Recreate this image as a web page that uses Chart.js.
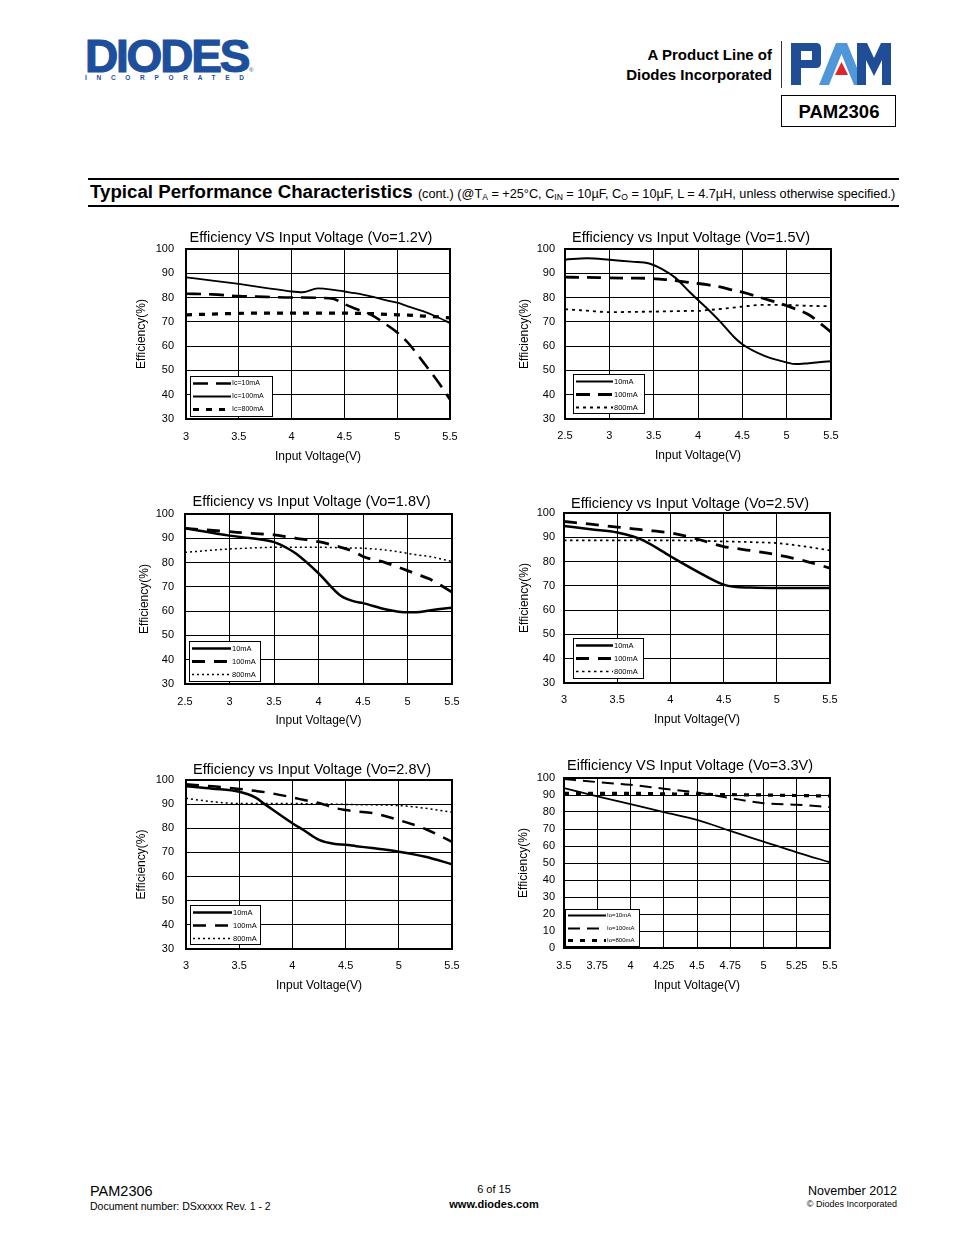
<!DOCTYPE html>
<html>
<head>
<meta charset="utf-8">
<script src="https://cdn.jsdelivr.net/npm/chart.js@4.4.1/dist/chart.umd.min.js"></script>
<style>
body { margin: 0; background: #fff; font-family: "Liberation Sans", Arial, sans-serif; }
#page { position: relative; width: 954px; height: 1235px; overflow: hidden; background: #fff; }
.t { position: absolute; white-space: nowrap; line-height: 1; color: #000; }
canvas { position: absolute; }
.sub { font-size: 8.5px; position: relative; top: 2px; }
</style>
</head>
<body>
<div id="page">
  <!-- header -->
  <div class="t" style="left:85px;top:33px;font-size:46px;font-weight:bold;color:#1d4f9c;letter-spacing:-2.2px;-webkit-text-stroke:1.2px #1d4f9c">DIODES</div>
  <div class="t" style="left:249px;top:67px;font-size:6px;color:#1d4f9c">®</div>
  <div class="t" style="left:85px;top:75px;font-size:6.5px;font-weight:bold;color:#1d4f9c;letter-spacing:9.7px">INCORPORATED</div>

  <div class="t" style="right:182px;top:47px;font-size:15px;font-weight:bold">A Product Line of</div>
  <div class="t" style="right:182px;top:67px;font-size:15px;font-weight:bold">Diodes Incorporated</div>
  <div style="position:absolute;left:781px;top:41px;width:1px;height:47px;background:#333"></div>
  <svg style="position:absolute;left:789px;top:41px" width="104" height="46" viewBox="789 41 104 46">
    <path fill="#1f4e96" fill-rule="evenodd" d="M791,43 H816 Q821,43 821,48 V63 Q821,68 816,68 H801 V85 H791 Z M801,51 H812 V60 H801 Z"/>
    <path fill="#4f97d8" d="M819,85 L836,43 H847 L864,85 H854 L841.5,54 L829,85 Z"/>
    <path fill="#e0262b" d="M841.5,62 L848,75 H835 Z"/>
    <path fill="#1f4e96" d="M857,85 V43 H867 L874,58 L881,43 H891 V85 H882 V60 L874,76 L866,60 V85 Z"/>
  </svg>
  <div style="position:absolute;left:781px;top:95px;width:113px;height:30px;border:1.5px solid #000"></div>
  <div class="t" style="left:781px;top:103px;width:116px;text-align:center;font-size:18.5px;font-weight:bold">PAM2306</div>

  <div style="position:absolute;left:88px;top:178px;width:811px;height:2px;background:#000"></div>
  <div class="t" style="left:90px;top:183px;font-size:18.7px;font-weight:bold">Typical Performance Characteristics <span style="font-size:12.7px;font-weight:normal">(cont.) (@T<span class="sub">A</span> = +25°C, C<span class="sub">IN</span> = 10µF, C<span class="sub">O</span> = 10µF, L = 4.7µH, unless otherwise specified.)</span></div>
  <div style="position:absolute;left:88px;top:205px;width:811px;height:2px;background:#000"></div>

  <canvas id="c1"></canvas>
  <canvas id="c2"></canvas>
  <canvas id="c3"></canvas>
  <canvas id="c4"></canvas>
  <canvas id="c5"></canvas>
  <canvas id="c6"></canvas>

  <!-- footer -->
  <div class="t" style="left:90px;top:1184px;font-size:14.5px">PAM2306</div>
  <div class="t" style="left:90px;top:1201px;font-size:10.5px">Document number: DSxxxxx Rev. 1 - 2</div>
  <div class="t" style="left:394px;top:1184px;width:200px;text-align:center;font-size:11px">6 of 15</div>
  <div class="t" style="left:394px;top:1199px;width:200px;text-align:center;font-size:11px;font-weight:bold">www.diodes.com</div>
  <div class="t" style="right:57px;top:1185px;font-size:12.5px">November 2012</div>
  <div class="t" style="right:57px;top:1200px;font-size:9px">© Diodes Incorporated</div>
</div>

<script>
// Vo = 1.2V
const vin12 = [3.0, 3.25, 3.5, 3.75, 4.0, 4.1, 4.25, 4.4, 4.5, 4.6, 4.75, 4.9, 5.0, 5.1, 5.25, 5.4, 5.5]
const eff12_10mA = [81.6, 81.3, 80.6, 80.3, 80.0, 80.0, 79.9, 79.4, 77.3, 75.5, 73.0, 68.8, 65.6, 61.5, 53.2, 44.5, 38.0]
const eff12_100mA = [88.3, 87.0, 85.6, 84.0, 82.5, 82.2, 83.8, 83.2, 82.5, 81.8, 80.5, 78.8, 77.9, 76.4, 74.3, 71.6, 69.5]
const eff12_800mA = [72.9, 73.2, 73.5, 73.6, 73.6, 73.6, 73.6, 73.6, 73.6, 73.5, 73.4, 73.1, 72.9, 72.8, 72.4, 72.0, 71.6]

// Vo = 1.5V
const vin15 = [2.5, 2.75, 3.0, 3.25, 3.45, 3.6, 3.75, 3.9, 4.0, 4.1, 4.25, 4.4, 4.5, 4.75, 5.0, 5.1, 5.25, 5.5]
const eff15_10mA = [95.6, 96.2, 95.6, 94.8, 94.0, 91.6, 88.0, 82.5, 79.0, 75.6, 70.1, 64.0, 60.8, 56.0, 53.3, 52.6, 53.0, 53.8]
const eff15_100mA = [88.4, 88.3, 88.1, 88.0, 87.9, 87.5, 87.0, 86.2, 85.8, 85.3, 84.4, 83.0, 82.2, 79.5, 76.7, 75.3, 72.9, 65.8]
const eff15_800mA = [75.2, 74.6, 74.0, 74.1, 74.2, 74.3, 74.4, 74.5, 74.5, 74.8, 75.3, 75.9, 76.3, 77.0, 77.0, 76.8, 76.6, 76.4]

// Vo = 1.8V
const vin18 = [2.5, 3.0, 3.25, 3.5, 3.65, 3.75, 4.0, 4.25, 4.4, 4.5, 4.75, 5.0, 5.1, 5.25, 5.5]
const eff18_10mA = [94.1, 91.1, 90.0, 88.4, 85.9, 83.6, 75.6, 66.3, 64.0, 63.3, 60.8, 59.5, 59.5, 60.3, 61.4]
const eff18_100mA = [94.1, 92.7, 92.0, 91.4, 90.6, 90.0, 88.6, 86.3, 84.5, 82.5, 80.0, 76.7, 75.3, 73.2, 67.8]
const eff18_800mA = [84.2, 85.6, 86.0, 86.3, 86.3, 86.3, 86.3, 86.1, 86.0, 85.9, 85.2, 83.8, 83.2, 82.5, 80.4]

// Vo = 2.5V
const vin25 = [3.0, 3.25, 3.5, 3.65, 3.75, 4.0, 4.25, 4.5, 4.6, 4.75, 5.0, 5.25, 5.5]
const eff25_10mA = [94.7, 93.3, 92.0, 90.3, 88.6, 82.2, 76.0, 70.5, 69.6, 69.3, 69.1, 69.1, 69.1]
const eff25_100mA = [96.5, 95.4, 94.2, 93.5, 93.0, 91.8, 89.3, 86.2, 85.5, 84.6, 82.8, 80.4, 77.3]
const eff25_800mA = [88.7, 88.7, 88.7, 88.7, 88.7, 88.7, 88.6, 88.3, 88.2, 88.0, 87.6, 86.3, 84.6]

// Vo = 2.8V
const vin28 = [3.0, 3.25, 3.5, 3.65, 3.75, 4.0, 4.1, 4.25, 4.4, 4.5, 4.6, 4.75, 5.0, 5.25, 5.5]
const eff28_10mA = [97.4, 96.4, 95.1, 92.8, 89.7, 82.1, 79.4, 75.2, 73.5, 73.2, 72.6, 71.8, 70.3, 68.2, 65.1]
const eff28_100mA = [98.2, 97.4, 96.3, 95.5, 94.9, 92.8, 91.8, 90.5, 88.4, 87.6, 87.0, 86.3, 83.4, 79.7, 74.4]
const eff28_800mA = [92.4, 91.0, 90.3, 90.3, 90.3, 90.3, 90.2, 90.1, 90.0, 89.9, 89.8, 89.7, 89.4, 88.3, 86.6]

// Vo = 3.3V
const vin33 = [3.5, 3.75, 4.0, 4.25, 4.5, 4.75, 5.0, 5.25, 5.5]
const eff33_10mA = [94.1, 89.2, 84.6, 79.9, 75.4, 68.9, 62.6, 56.3, 50.4]
const eff33_100mA = [99.4, 97.6, 96.0, 93.7, 91.5, 88.2, 85.2, 84.3, 82.9]
const eff33_800mA = [91.0, 91.0, 91.0, 90.7, 90.4, 90.2, 90.0, 89.7, 89.4]

// axis ranges: [min, max, step]
const xRange25 = [2.5, 5.5, 0.5]
const xRange30 = [3, 5.5, 0.5]
const xRange35 = [3.5, 5.5, 0.25]
const yRange30 = [30, 100, 10]
const yRange0 = [0, 100, 10]

Chart.defaults.font.family = '"Liberation Sans", Arial, sans-serif'
Chart.defaults.color = '#000'

// thick frame round the plot area
const frame = {
    id: 'frame',
    afterDatasetsDraw(chart) {
        const { ctx, chartArea: a } = chart
        ctx.save()
        ctx.lineWidth = 2
        ctx.strokeStyle = '#000'
        ctx.strokeRect(a.left, a.top, a.right - a.left, a.bottom - a.top)
        ctx.restore()
    }
}

// small boxed legend sitting inside the plot, bottom left
const boxLegend = {
    id: 'boxLegend',
    afterDatasetsDraw(chart, args, o) {
        const { ctx, chartArea: a } = chart
        const x = a.left + o.dx
        const y = a.bottom - o.gap - o.h
        ctx.save()
        ctx.fillStyle = '#fff'
        ctx.fillRect(x, y, o.w, o.h)
        ctx.strokeStyle = '#000'
        ctx.lineWidth = 1
        ctx.strokeRect(x + 0.5, y + 0.5, o.w, o.h)
        chart.data.datasets.forEach((ds, i) => {
            const ry = Math.round(y + o.h * (i + 0.5) / 3) + 0.5
            ctx.beginPath()
            ctx.setLineDash(ds.borderDash || [])
            ctx.lineWidth = ds.borderWidth
            ctx.moveTo(x + 3, ry)
            ctx.lineTo(x + 3 + o.sample, ry)
            ctx.stroke()
            ctx.setLineDash([])
            ctx.fillStyle = '#000'
            ctx.font = (o.fs || 7.5) + 'px "Liberation Sans", Arial, sans-serif'
            ctx.textBaseline = 'middle'
            ctx.fillText(ds.label, x + 4 + o.sample, ry)
        })
        ctx.restore()
    }
}

const pts = (xs, ys) => xs.map((x, i) => ({ x, y: ys[i] }))

function draw(id, g, title, xs, series, xr, yr) {
    const cv = document.getElementById(id)
    cv.width = g.R - g.L + 76 + 62
    cv.height = g.B - g.T + 80
    cv.style.left = (g.L - 76) + 'px'
    cv.style.top = (g.T - 30) + 'px'
    const pt = g.titleY - (g.T - 30) - 7

    new Chart(cv, {
        type: 'line',
        data: {
            datasets: series.map(s => ({
                label: s.label,
                data: pts(xs, s.y),
                borderColor: '#000',
                borderWidth: s.w,
                borderDash: s.dash,
                pointRadius: 0,
                fill: false,
                cubicInterpolationMode: 'monotone'
            }))
        },
        options: {
            responsive: false,
            animation: false,
            devicePixelRatio: 1,
            layout: { padding: 0 },
            plugins: {
                legend: { display: false },
                tooltip: { enabled: false },
                title: {
                    display: true,
                    text: title,
                    color: '#000',
                    font: { size: 14.5, weight: 'normal', lineHeight: 1 },
                    padding: { top: pt, bottom: 30 - 14.5 - pt }
                },
                boxLegend: g.leg
            },
            scales: {
                x: {
                    type: 'linear',
                    min: xr[0],
                    max: xr[1],
                    afterFit(s) { s.height = 50 },
                    ticks: {
                        stepSize: xr[2],
                        padding: g.xTickY - g.B - 6.6,
                        font: { size: 11 },
                        autoSkip: false,
                        maxRotation: 0,
                        callback: v => String(v)
                    },
                    grid: { color: '#000', lineWidth: 1, drawTicks: false },
                    border: { display: false },
                    title: {
                        display: true,
                        text: 'Input Voltage(V)',
                        font: { size: 12, lineHeight: 1 },
                        padding: { top: 0, bottom: g.B + 50 - g.xTitleY - 6 }
                    }
                },
                y: {
                    min: yr[0],
                    max: yr[1],
                    afterFit(s) { s.width = 76 },
                    ticks: {
                        stepSize: yr[2],
                        padding: g.L - g.tickR,
                        font: { size: 11 },
                        callback: v => String(v)
                    },
                    grid: { color: '#000', lineWidth: 1, drawTicks: false },
                    border: { display: false },
                    title: {
                        display: true,
                        text: 'Efficiency(%)',
                        font: { size: 12, lineHeight: 1 },
                        padding: { top: g.yTitleX - (g.L - 76) - 6, bottom: 0 }
                    }
                },
                // empty right-hand spacer so the chart title sits where the original has it
                spacer: {
                    position: 'right',
                    afterFit(s) { s.width = 62 },
                    ticks: { display: false },
                    grid: { display: false },
                    border: { display: false }
                }
            }
        },
        plugins: [frame, boxLegend]
    })
}

draw('c1',
    { L: 186, R: 450, T: 249, B: 419, titleY: 238, tickR: 174, xTickY: 437, xTitleY: 457, yTitleX: 142,
      leg: { dx: 4, w: 82, h: 40, gap: 3, sample: 38, fs: 7 } },
    'Efficiency VS Input Voltage (Vo=1.2V)', vin12,
    [{ label: 'Ic=10mA', y: eff12_10mA, w: 2.6, dash: [15, 8] },
     { label: 'Ic=100mA', y: eff12_100mA, w: 1.8, dash: [] },
     { label: 'Ic=800mA', y: eff12_800mA, w: 3.2, dash: [6, 7] }],
    xRange30, yRange30)

draw('c2',
    { L: 565, R: 831, T: 249, B: 419, titleY: 238, tickR: 555, xTickY: 436, xTitleY: 456, yTitleX: 525,
      leg: { dx: 8, w: 71, h: 39, gap: 6, sample: 37 } },
    'Efficiency vs Input Voltage (Vo=1.5V)', vin15,
    [{ label: '10mA', y: eff15_10mA, w: 2, dash: [] },
     { label: '100mA', y: eff15_100mA, w: 2.8, dash: [14, 8] },
     { label: '800mA', y: eff15_800mA, w: 1.8, dash: [3, 4] }],
    xRange25, yRange30)

draw('c3',
    { L: 185, R: 452, T: 514, B: 684, titleY: 502, tickR: 174, xTickY: 702, xTitleY: 721, yTitleX: 145,
      leg: { dx: 4, w: 71, h: 40, gap: 3, sample: 39 } },
    'Efficiency vs Input Voltage (Vo=1.8V)', vin18,
    [{ label: '10mA', y: eff18_10mA, w: 2.5, dash: [] },
     { label: '100mA', y: eff18_100mA, w: 2.8, dash: [13, 9] },
     { label: '800mA', y: eff18_800mA, w: 1.5, dash: [2, 3] }],
    xRange25, yRange30)

draw('c4',
    { L: 564, R: 830, T: 513, B: 683, titleY: 504, tickR: 555, xTickY: 700, xTitleY: 720, yTitleX: 525,
      leg: { dx: 9, w: 70, h: 40, gap: 5, sample: 37 } },
    'Efficiency vs Input Voltage (Vo=2.5V)', vin25,
    [{ label: '10mA', y: eff25_10mA, w: 2.5, dash: [] },
     { label: '100mA', y: eff25_100mA, w: 2.8, dash: [13, 9] },
     { label: '800mA', y: eff25_800mA, w: 1.7, dash: [2.5, 3.5] }],
    xRange30, yRange30)

draw('c5',
    { L: 186, R: 452, T: 780, B: 949, titleY: 770, tickR: 174, xTickY: 966, xTitleY: 986, yTitleX: 142,
      leg: { dx: 4, w: 70, h: 39, gap: 5, sample: 39 } },
    'Efficiency vs Input Voltage (Vo=2.8V)', vin28,
    [{ label: '10mA', y: eff28_10mA, w: 2.5, dash: [] },
     { label: '100mA', y: eff28_100mA, w: 2.5, dash: [13, 9] },
     { label: '800mA', y: eff28_800mA, w: 1.5, dash: [2, 3] }],
    xRange30, yRange30)

draw('c6',
    { L: 564, R: 830, T: 778, B: 948, titleY: 766, tickR: 555, xTickY: 966, xTitleY: 986, yTitleX: 524,
      leg: { dx: 1, w: 74, h: 37, gap: 2, sample: 38, fs: 6 } },
    'Eifficiency VS Input Voltage (Vo=3.3V)', vin33,
    [{ label: 'Io=10mA', y: eff33_10mA, w: 1.8, dash: [] },
     { label: 'Io=100mA', y: eff33_100mA, w: 2, dash: [12, 7] },
     { label: 'Io=800mA', y: eff33_800mA, w: 3.2, dash: [5, 7] }],
    xRange35, yRange0)
</script>
</body>
</html>
